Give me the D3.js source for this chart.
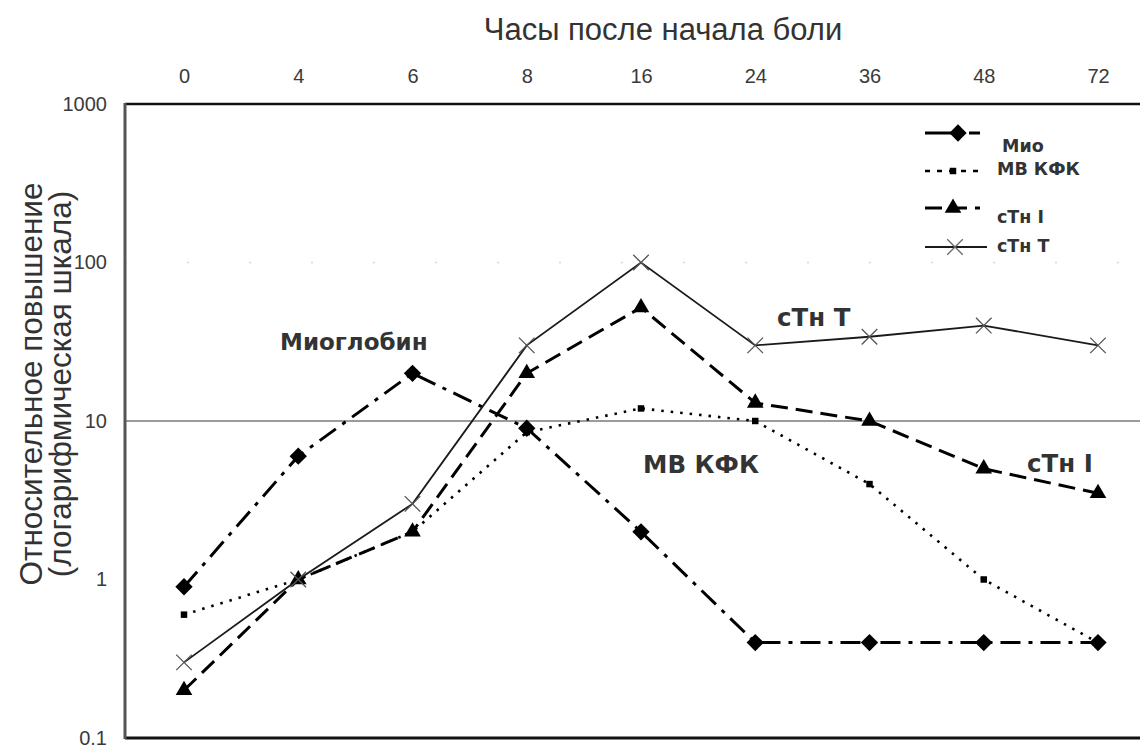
<!DOCTYPE html>
<html>
<head>
<meta charset="utf-8">
<script src="https://cdn.jsdelivr.net/npm/d3@7"></script>
<style>
  html, body { margin: 0; padding: 0; background: #fff; }
  svg { display: block; }
</style>
</head>
<body>
<svg id="chart" width="1147" height="749"></svg>
<script>
// ---- data ----
const hours = ["0", "4", "6", "8", "16", "24", "36", "48", "72"];
const mio   = [0.9, 6, 20, 9, 2, 0.4, 0.4, 0.4, 0.4];
const mbCk  = [0.6, 1, 2, 8.5, 12, 10, 4, 1, 0.4];
const ctnI  = [0.2, 1, 2, 20, 52, 13, 10, 5, 3.5];
const ctnT  = [0.3, 1, 3, 30, 100, 30, 34, 40, 30];
const yTicks = [0.1, 1, 10, 100, 1000];
const yTickLabels = ["0.1", "1", "10", "100", "1000"];
const seriesNames = ["Мио", "МВ КФК", "сТн I", "сТн Т"];
const annotations = ["Миоглобин", "сТн Т", "МВ КФК", "сТн I"];
const xTitle = "Часы после начала боли";
const yTitle1 = "Относительное повышение";
const yTitle2 = "(логарифмическая шкала)";

// ---- layout ----
const svg = d3.select("#chart");
const plot = { left: 125, right: 1140, top: 104, bottom: 738 };

const x = d3.scalePoint().domain(hours).range([184, 1098]);
const y = d3.scaleLog().domain([0.1, 1000]).range([plot.bottom, plot.top]);

// square diamond symbol
const symbolRhomb = {
  draw(ctx, size) {
    const r = Math.sqrt(size / 2);
    ctx.moveTo(0, -r); ctx.lineTo(r, 0); ctx.lineTo(0, r); ctx.lineTo(-r, 0); ctx.closePath();
  }
};

// faint 100 line (dotted, barely visible)
svg.append("line")
  .attr("x1", plot.left).attr("x2", plot.right)
  .attr("y1", y(100)).attr("y2", y(100))
  .attr("stroke", "#d8d8d8").attr("stroke-width", 1.5)
  .attr("stroke-dasharray", "2,60");

// gridline at 10
svg.append("line")
  .attr("x1", plot.left).attr("x2", plot.right)
  .attr("y1", y(10)).attr("y2", y(10))
  .attr("stroke", "#7a7a7a").attr("stroke-width", 1.6);

// frame lines
svg.append("line").attr("x1", plot.left).attr("x2", plot.right)
  .attr("y1", plot.top).attr("y2", plot.top)
  .attr("stroke", "#111").attr("stroke-width", 2.5);
svg.append("line").attr("x1", plot.left).attr("x2", plot.right)
  .attr("y1", plot.bottom).attr("y2", plot.bottom)
  .attr("stroke", "#111").attr("stroke-width", 3);
svg.append("line").attr("x1", plot.left).attr("x2", plot.left)
  .attr("y1", plot.top - 1).attr("y2", plot.bottom + 1)
  .attr("stroke", "#555").attr("stroke-width", 3);

// top axis labels
const topAxis = d3.axisTop(x).tickSize(0).tickPadding(0);
const gTop = svg.append("g").attr("transform", "translate(0,83)").call(topAxis);
gTop.select(".domain").remove();
gTop.selectAll("text")
  .attr("font-family", "Liberation Sans, Arial, sans-serif")
  .attr("font-size", 20).attr("fill", "#3a3a3a");

// left axis labels
const leftAxis = d3.axisLeft(y).tickValues(yTicks)
  .tickFormat((d, i) => yTickLabels[i]).tickSize(0).tickPadding(0);
const gLeft = svg.append("g").attr("transform", "translate(107,0)").call(leftAxis);
gLeft.select(".domain").remove();
gLeft.selectAll("text")
  .attr("font-family", "Liberation Sans, Arial, sans-serif")
  .attr("font-size", 20).attr("fill", "#3a3a3a");

// titles
svg.append("text").text(xTitle)
  .attr("x", 663).attr("y", 40).attr("text-anchor", "middle")
  .attr("font-family", "Liberation Sans, Arial, sans-serif")
  .attr("font-size", 31).attr("fill", "#333");
svg.append("text").text(yTitle1)
  .attr("transform", "translate(42,384) rotate(-90)")
  .attr("text-anchor", "middle")
  .attr("font-family", "Liberation Sans, Arial, sans-serif")
  .attr("font-size", 31.5).attr("fill", "#333");
svg.append("text").text(yTitle2)
  .attr("transform", "translate(71,384) rotate(-90)")
  .attr("text-anchor", "middle")
  .attr("font-family", "Liberation Sans, Arial, sans-serif")
  .attr("font-size", 31.5).attr("fill", "#333");

// ---- series ----
const series = [
  { name: seriesNames[0], values: mio,  dash: "20,8,4,8", width: 3,   color: "#000", sym: symbolRhomb,      size: 150, fill: true },
  { name: seriesNames[1], values: mbCk, dash: "2.5,7",     width: 2.6, color: "#000", sym: d3.symbolSquare,   size: 42,  fill: true },
  { name: seriesNames[2], values: ctnI, dash: "17,8",      width: 3,   color: "#000", sym: d3.symbolTriangle, size: 120, fill: true },
  { name: seriesNames[3], values: ctnT, dash: null,        width: 1.8, color: "#1a1a1a", sym: d3.symbolX,     size: 160, fill: false }
];

const line = d3.line().x((d, i) => x(hours[i])).y(d => y(d));

series.forEach(s => {
  svg.append("path").datum(s.values)
    .attr("d", line)
    .attr("fill", "none")
    .attr("stroke", s.color)
    .attr("stroke-width", s.width)
    .attr("stroke-dasharray", s.dash);
});

series.forEach(s => {
  svg.append("g").selectAll("path").data(s.values).join("path")
    .attr("transform", (d, i) => `translate(${x(hours[i])},${y(d)})`)
    .attr("d", d3.symbol().type(s.sym).size(s.size))
    .attr("fill", s.fill ? "#000" : "none")
    .attr("stroke", s.fill ? "none" : "#555")
    .attr("stroke-width", s.fill ? 0 : 1.3);
});

// ---- legend ----
const legY = [133, 171, 208, 247];
const legTextY = [152, 175, 223, 252];
const legTextX = [1002, 997, 997, 997];
const legMarkX = [958, 953, 953, 955];
const leg = svg.append("g");
series.forEach((s, i) => {
  leg.append("line")
    .attr("x1", 925).attr("x2", i === 3 ? 987 : 980)
    .attr("y1", legY[i]).attr("y2", legY[i])
    .attr("stroke", s.color).attr("stroke-width", s.width)
    .attr("stroke-dasharray", i === 0 ? "26,7,4,7" : i === 1 ? "5,7" : s.dash);
  leg.append("path")
    .attr("transform", `translate(${legMarkX[i]},${legY[i]})`)
    .attr("d", d3.symbol().type(s.sym).size(s.size))
    .attr("fill", s.fill ? "#000" : "none")
    .attr("stroke", s.fill ? "none" : "#666")
    .attr("stroke-width", s.fill ? 0 : 1.3);
  leg.append("text").text(s.name)
    .attr("x", legTextX[i]).attr("y", legTextY[i])
    .attr("font-family", "DejaVu Sans, Verdana, sans-serif")
    .attr("font-weight", "bold").attr("font-size", 17.5).attr("fill", "#333");
});

// ---- annotations ----
const annX = [280, 777, 643, 1027];
const annY = [350, 326, 473, 472];
annotations.forEach((t, i) => {
  svg.append("text").text(t)
    .attr("x", annX[i]).attr("y", annY[i])
    .attr("font-family", "DejaVu Sans, Verdana, sans-serif")
    .attr("font-weight", "bold").attr("font-size", i === 0 ? 23 : 24.5).attr("fill", "#333");
});
</script>
</body>
</html>
